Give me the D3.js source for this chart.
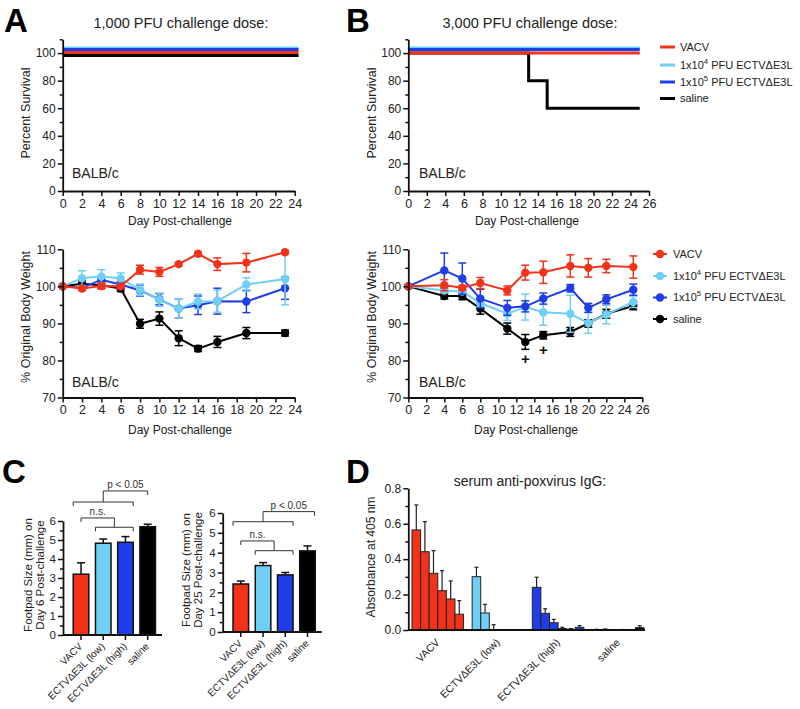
<!DOCTYPE html>
<html><head><meta charset="utf-8">
<script src="https://cdn.jsdelivr.net/npm/d3@7"></script>
<style>body{margin:0;background:#fff} svg{display:block}</style>
</head><body><svg id="c" width="800" height="709"></svg>
<script>
const FONT = '"Liberation Sans", Arial, Helvetica, sans-serif';
const RED = "#f2331a", LBLUE = "#6fcff5", BLUE = "#1f3ee8", BLACK = "#000000";

// ---------- DATA ----------
const seriesColors = [RED, LBLUE, BLUE, BLACK];
const legendBase = ["VACV", "1x10", "1x10", "saline"];
const legendSup = ["", "4", "5", ""];
const legendRest = ["", " PFU ECTV\u0394E3L", " PFU ECTV\u0394E3L", ""];

// A survival (1,000 PFU)
const survA_days = [0, 24.4];
const survA_vacv = [100, 100];
const survA_low = [100, 100];
const survA_high = [100, 100];
const survA_saline = [100, 100];
// B survival (3,000 PFU)
const survB_days = [0, 25];
const survB_vacv = [100, 100];
const survB_low = [100, 100];
const survB_high = [100, 100];
const survB_saline_days = [0, 13, 15, 25];
const survB_saline = [100, 80, 60, 60];

// A body weight
const wA_days = [0, 2, 4, 6, 8, 10, 12, 14, 16, 19, 23];
const wA_vacv = [100, 99.4, 100.1, 100, 104.5, 103.9, 106, 108.8, 106, 106.4, 109.2];
const wA_vacv_err = [0, 0.5, 0.8, 0.5, 1.2, 1.2, 0.4, 0.4, 1.7, 2.5, 0.4];
const wA_low = [100, 102.2, 102.7, 102.1, 99.1, 96.4, 94, 95.9, 96, 100.5, 102];
const wA_low_err = [0, 2, 1.8, 1.5, 1.5, 1.8, 2.5, 2, 3, 1.8, 7];
const wA_high = [100, 99.6, 101.8, 100.5, 98.9, 96.5, 94, 94.9, 96, 95.9, 99.5];
const wA_high_err = [0, 0.5, 0.8, 0.8, 1.5, 1.5, 2.5, 2.5, 3.5, 3, 3];
const wA_saline = [100, 100.7, 100.3, 99.4, 89.9, 91.3, 86, 83.2, 85, 87.4, 87.4];
const wA_saline_err = [0, 0.8, 0.8, 0.8, 1.2, 1.8, 2, 0.8, 1.5, 1.5, 0.8];

// B body weight
const wB_days = [0, 4, 6, 8, 11, 13, 15, 18, 20, 22, 25];
const wB_vacv = [100, 100.3, 99.6, 100.9, 98.9, 103.7, 103.8, 105.5, 105, 105.5, 105.2];
const wB_vacv_err = [0, 1.5, 0.6, 1.5, 1.2, 2, 3, 3, 2.5, 1.8, 3];
const wB_low = [100, 98.9, 98.6, 95.5, 92.6, 94.4, 93, 92.6, 90.1, 92.4, 95.8];
const wB_low_err = [0, 0.6, 0.6, 1, 1.8, 3.5, 3.5, 5, 2.8, 2.5, 1.5];
const wB_high = [100, 104.3, 102.1, 96.7, 94.2, 94.6, 96.7, 99.5, 94.2, 96.5, 99.1];
const wB_high_err = [0, 4.7, 4.2, 2.5, 2, 1.5, 1.5, 1, 1.2, 1.2, 1.5];
const wB_saline = [100, 97.4, 97.4, 94, 88.6, 85, 86.8, 87.7, 90, 92.6, 94.7];
const wB_saline_err = [0, 0.8, 1, 1.5, 1.5, 2, 1, 1.2, 1, 1.2, 1];
const plusDays = [13, 15];
const plusVals = [80.3, 82.8];

// C footpad
const footCats = ["VACV", "ECTV\u0394E3L (low)", "ECTV\u0394E3L (high)", "saline"];
const foot6 = [3.2, 4.83, 4.88, 5.7];
const foot6_err = [0.6, 0.22, 0.3, 0.13];
const foot25 = [2.42, 3.35, 2.88, 4.09];
const foot25_err = [0.15, 0.15, 0.12, 0.25];

// D serum IgG (6 serial dilutions per group)
const iggGroups = ["VACV", "ECTV\u0394E3L (low)", "ECTV\u0394E3L (high)", "saline"];
const igg_vacv = [0.565, 0.442, 0.32, 0.222, 0.175, 0.089];
const igg_vacv_err = [0.141, 0.17, 0.128, 0.113, 0.102, 0.077];
const igg_low = [0.301, 0.096, 0.002, 0, 0, 0];
const igg_low_err = [0.053, 0.049, 0.028, 0, 0, 0];
const igg_high = [0.241, 0.094, 0.041, 0.008, 0.004, 0.015];
const igg_high_err = [0.057, 0.026, 0.019, 0.007, 0.004, 0.01];
const igg_saline = [0.002, 0.003, 0, 0.002, 0, 0.013];
const igg_saline_err = [0.002, 0.003, 0, 0.001, 0, 0.011];

// ---------- HELPERS ----------
const svg = d3.select("#c");
function txt(x, y, s, fs, opts = {}) {
  const t = svg.append("text").attr("x", x).attr("y", y).text(s)
    .attr("font-family", FONT).attr("font-size", fs).attr("fill", opts.fill || "#222")
    .attr("text-anchor", opts.anchor || "start");
  if (opts.weight) t.attr("font-weight", opts.weight);
  if (opts.rotate) t.attr("transform", `rotate(${opts.rotate},${x},${y})`);
  return t;
}
function styleAxis(g, fs) {
  g.attr("font-family", FONT).attr("font-size", fs);
  g.select(".domain").attr("stroke", "#111").attr("stroke-width", 1.8);
  g.selectAll(".tick line").attr("stroke", "#111").attr("stroke-width", 1.5);
  g.selectAll(".tick text").attr("fill", "#222");
}
function yAxis(x0, y, ticks, minor, fmt, fs) {
  const g = svg.append("g").attr("transform", `translate(${x0},0)`);
  g.call(d3.axisLeft(y).tickValues(ticks).tickFormat(fmt).tickSize(5).tickSizeOuter(0).tickPadding(2));
  styleAxis(g, fs);
  if (minor) {
    const m = svg.append("g").attr("transform", `translate(${x0},0)`);
    m.call(d3.axisLeft(y).tickValues(minor).tickFormat("").tickSize(3).tickSizeOuter(0));
    m.select(".domain").remove();
    m.selectAll("line").attr("stroke", "#111").attr("stroke-width", 1.5);
  }
}
function xAxis(y0, x, ticks, fs) {
  const g = svg.append("g").attr("transform", `translate(0,${y0})`);
  g.call(d3.axisBottom(x).tickValues(ticks).tickSize(5).tickSizeOuter(0).tickPadding(3));
  styleAxis(g, fs);
}
function drawSurvival(x, y, days, vals, color, off) {
  svg.append("path").datum(days.map((d, i) => [d, vals[i]]))
    .attr("d", d3.line().curve(d3.curveStepAfter).x(d => x(d[0])).y(d => y(d[1]) + off))
    .attr("fill", "none").attr("stroke", color).attr("stroke-width", 3);
}
function drawWeight(x, y, days, vals, errs, color) {
  const g = svg.append("g");
  g.append("path").datum(days.map((d, i) => [d, vals[i]]))
    .attr("d", d3.line().x(d => x(d[0])).y(d => y(d[1])))
    .attr("fill", "none").attr("stroke", color).attr("stroke-width", 2);
  days.forEach((d, i) => {
    const e = errs[i];
    if (e > 0) {
      const cx = x(d);
      g.append("line").attr("x1", cx).attr("x2", cx).attr("y1", y(vals[i] - e)).attr("y2", y(vals[i] + e))
        .attr("stroke", color).attr("stroke-width", 1.5);
      [vals[i] - e, vals[i] + e].forEach(v => g.append("line").attr("x1", cx - 4).attr("x2", cx + 4)
        .attr("y1", y(v)).attr("y2", y(v)).attr("stroke", color).attr("stroke-width", 1.5));
    }
  });
  g.selectAll("circle").data(days).join("circle").attr("cx", d => x(d)).attr("cy", (d, i) => y(vals[i]))
    .attr("r", 4.2).attr("fill", color);
}
function legendLabel(x, y, i, fs) {
  const t = svg.append("text").attr("x", x).attr("y", y + fs * 0.36).attr("font-family", FONT).attr("font-size", fs)
    .attr("fill", "#222");
  t.append("tspan").text(legendBase[i]);
  if (legendSup[i]) {
    t.append("tspan").text(legendSup[i]).attr("font-size", fs * 0.7).attr("dy", -5);
    t.append("tspan").text(legendRest[i]).attr("dy", 5);
  }
}

// ---------- PANEL LETTERS & TITLES ----------
txt(4, 32, "A", 33, { weight: "bold", fill: "#000" });
txt(346, 32, "B", 33, { weight: "bold", fill: "#000" });
txt(2, 483, "C", 33, { weight: "bold", fill: "#000" });
txt(346, 483, "D", 33, { weight: "bold", fill: "#000" });
txt(181, 28, "1,000 PFU challenge dose:", 14.5, { anchor: "middle" });
txt(530, 28, "3,000 PFU challenge dose:", 14.5, { anchor: "middle" });

// ---------- A: survival ----------
const xSA = d3.scaleLinear([0, 24], [62.7, 294.7]);
const ySA = d3.scaleLinear([0, 110], [191, 39.3]);
drawSurvival(xSA, ySA, survA_days, survA_saline, BLACK, 2.5);
drawSurvival(xSA, ySA, survA_days, survA_vacv, RED, -0.5);
drawSurvival(xSA, ySA, survA_days, survA_low, LBLUE, -5);
drawSurvival(xSA, ySA, survA_days, survA_high, BLUE, -3.5);
yAxis(62.7, ySA, d3.range(0, 101, 20), d3.range(10, 111, 20), d3.format("d"), 12);
xAxis(191, xSA, d3.range(0, 25, 2), 12.5);
txt(30, 113, "Percent Survival", 12.5, { anchor: "middle", rotate: -90 });
txt(72, 178, "BALB/c", 14);
txt(180, 225, "Day Post-challenge", 12, { anchor: "middle" });

// ---------- B: survival ----------
const xSB = d3.scaleLinear([0, 26], [408.3, 649]);
const ySB = d3.scaleLinear([0, 110], [191, 39.3]);
drawSurvival(xSB, ySB, survB_saline_days, survB_saline, BLACK, 0);
drawSurvival(xSB, ySB, survB_days, survB_vacv, RED, 0);
drawSurvival(xSB, ySB, survB_days, survB_low, LBLUE, -5);
drawSurvival(xSB, ySB, survB_days, survB_high, BLUE, -3.5);
yAxis(408.3, ySB, d3.range(0, 101, 20), d3.range(10, 111, 20), d3.format("d"), 12);
xAxis(191, xSB, d3.range(0, 27, 2), 12.5);
txt(376, 113, "Percent Survival", 12.5, { anchor: "middle", rotate: -90 });
txt(419, 178, "BALB/c", 14);
txt(527, 225, "Day Post-challenge", 12, { anchor: "middle" });
// legend (top)
const legTopY = [47, 65, 82, 98.5];
seriesColors.forEach((c, i) => {
  svg.append("line").attr("x1", 660).attr("x2", 675).attr("y1", legTopY[i]).attr("y2", legTopY[i])
    .attr("stroke", c).attr("stroke-width", 3);
  legendLabel(680, legTopY[i], i, 11);
});

// ---------- A: weight ----------
const xWA = d3.scaleLinear([0, 24], [62.7, 294.7]);
const yWA = d3.scaleLinear([70, 110], [397.5, 249.3]);
drawWeight(xWA, yWA, wA_days, wA_saline, wA_saline_err, BLACK);
drawWeight(xWA, yWA, wA_days, wA_high, wA_high_err, BLUE);
drawWeight(xWA, yWA, wA_days, wA_low, wA_low_err, LBLUE);
drawWeight(xWA, yWA, wA_days, wA_vacv, wA_vacv_err, RED);
yAxis(62.7, yWA, d3.range(70, 111, 10), d3.range(75, 110, 10), d3.format("d"), 12);
xAxis(397.5, xWA, d3.range(0, 25, 2), 12.5);
txt(30, 317, "% Original Body Weight", 12.5, { anchor: "middle", rotate: -90 });
txt(72, 387, "BALB/c", 14);
txt(180, 434, "Day Post-challenge", 12, { anchor: "middle" });

// ---------- B: weight ----------
const xWB = d3.scaleLinear([0, 26], [408.3, 642.3]);
const yWB = d3.scaleLinear([70, 110], [397.5, 249.3]);
drawWeight(xWB, yWB, wB_days, wB_saline, wB_saline_err, BLACK);
drawWeight(xWB, yWB, wB_days, wB_low, wB_low_err, LBLUE);
drawWeight(xWB, yWB, wB_days, wB_high, wB_high_err, BLUE);
drawWeight(xWB, yWB, wB_days, wB_vacv, wB_vacv_err, RED);
yAxis(408.3, yWB, d3.range(70, 111, 10), d3.range(75, 110, 10), d3.format("d"), 12);
xAxis(397.5, xWB, d3.range(0, 27, 2), 12.5);
plusDays.forEach((d, i) => txt(xWB(d), yWB(plusVals[i]) + 5, "+", 15, { anchor: "middle", weight: "bold", fill: "#111" }));
txt(376, 317, "% Original Body Weight", 12.5, { anchor: "middle", rotate: -90 });
txt(419, 387, "BALB/c", 14);
txt(526, 434, "Day Post-challenge", 12, { anchor: "middle" });
// legend (bottom)
const legBotY = [254, 276, 297.5, 319];
seriesColors.forEach((c, i) => {
  svg.append("line").attr("x1", 653).attr("x2", 667).attr("y1", legBotY[i]).attr("y2", legBotY[i])
    .attr("stroke", c).attr("stroke-width", 2);
  svg.append("circle").attr("cx", 660).attr("cy", legBotY[i]).attr("r", 4.2).attr("fill", c);
  legendLabel(673, legBotY[i], i, 11);
});

// ---------- C: footpad bars ----------
function drawFoot(vals, errs, xr, axisX, axisEnd, yr, ylab1, ylab2, labX, labY, brackets) {
  const x = d3.scaleBand(footCats, xr).paddingInner(0.3).paddingOuter(0.15);
  const y = d3.scaleLinear([0, 6], yr);
  const g = svg.append("g");
  footCats.forEach((c, i) => {
    const bx = x(c), bw = x.bandwidth(), cx = bx + bw / 2;
    g.append("line").attr("x1", cx).attr("x2", cx).attr("y1", y(vals[i])).attr("y2", y(vals[i] + errs[i]))
      .attr("stroke", "#111").attr("stroke-width", 1.5);
    g.append("line").attr("x1", cx - 4).attr("x2", cx + 4).attr("y1", y(vals[i] + errs[i])).attr("y2", y(vals[i] + errs[i]))
      .attr("stroke", "#111").attr("stroke-width", 1.5);
    g.append("rect").attr("x", bx).attr("width", bw).attr("y", y(vals[i])).attr("height", y(0) - y(vals[i]))
      .attr("fill", seriesColors[i]).attr("stroke", "#111").attr("stroke-width", 1.5);
  });
  yAxis(axisX, y, d3.range(0, 7, 1), d3.range(0.5, 6, 1), d3.format("d"), 11.5);
  const xa = svg.append("g").attr("transform", `translate(0,${y(0)})`);
  xa.append("line").attr("x1", axisX).attr("x2", axisEnd).attr("stroke", "#111").attr("stroke-width", 1.8);
  footCats.forEach((c, i) => {
    const cx = x(c) + x.bandwidth() / 2;
    xa.append("line").attr("x1", cx).attr("x2", cx).attr("y1", 0).attr("y2", 5).attr("stroke", "#111").attr("stroke-width", 1.5);
    txt(cx + 2, y(0) + 12, c, 10, { anchor: "end", rotate: -45 });
  });
  txt(labX, labY, ylab1, 11.5, { anchor: "middle", rotate: -90 });
  txt(labX + 12, labY, ylab2, 11.5, { anchor: "middle", rotate: -90 });
  const ctr = i => x(footCats[i]) + x.bandwidth() / 2;
  brackets.forEach(b => {
    const x1 = x(footCats[b.lo]), x2 = x(footCats[b.hi]) + x.bandwidth();
    const yl = y(b.low), yt = y(b.top);
    const xm = (x1 + x2) / 2;
    const xe = ctr(b.to) + b.toOff * x.bandwidth();
    const p = d3.path();
    p.moveTo(x1, yl + 4); p.lineTo(x1, yl); p.lineTo(x2, yl); p.lineTo(x2, yl + 4);
    p.moveTo(xm, yl); p.lineTo(xm, yt); p.lineTo(xe, yt); p.lineTo(xe, yt + 4);
    svg.append("path").attr("d", p.toString()).attr("fill", "none").attr("stroke", "#333").attr("stroke-width", 1);
    txt((xm + xe) / 2, yt - 3, b.label, 10, { anchor: "middle", fill: "#333" });
  });
}
drawFoot(foot6, foot6_err, [69.9, 158.8], 63, 162, [635, 521],
  "Footpad Size (mm) on", "Day 6 Post-challenge", 32, 575,
  [{ lo: 1, hi: 2, low: 5.67, top: 6.16, to: 0, toOff: 0, label: "n.s." },
   { lo: 0, hi: 2, low: 7.0, top: 7.58, to: 3, toOff: 0, label: "p < 0.05" }]);
drawFoot(foot25, foot25_err, [229.7, 318.6], 222.7, 321.7, [632, 513],
  "Footpad Size (mm) on", "Day 25 Post-challenge", 190, 570,
  [{ lo: 1, hi: 2, low: 4.1, top: 4.59, to: 0, toOff: 0, label: "n.s." },
   { lo: 0, hi: 2, low: 5.56, top: 6.07, to: 3, toOff: 0.45, label: "p < 0.05" }]);

// ---------- D: serum IgG ----------
const iggVals = [igg_vacv, igg_low, igg_high, igg_saline];
const iggErrs = [igg_vacv_err, igg_low_err, igg_high_err, igg_saline_err];
const xg = d3.scaleBand(iggGroups, [412, 644]).paddingInner(1 / 7).paddingOuter(0);
const xi = d3.scaleBand(d3.range(6), [0, xg.bandwidth()]);
const yD = d3.scaleLinear([0, 0.8], [630, 488.3]);
iggGroups.forEach((grp, gi) => {
  iggVals[gi].forEach((v, j) => {
    const bx = xg(grp) + xi(j), bw = xi.bandwidth(), cx = bx + bw / 2;
    const e = iggErrs[gi][j];
    if (e > 0) {
      svg.append("line").attr("x1", cx).attr("x2", cx).attr("y1", yD(v)).attr("y2", yD(v + e))
        .attr("stroke", "#222").attr("stroke-width", 1.2);
      svg.append("line").attr("x1", cx - 2).attr("x2", cx + 2).attr("y1", yD(v + e)).attr("y2", yD(v + e))
        .attr("stroke", "#222").attr("stroke-width", 1.2);
    }
    if (v > 0) {
      svg.append("rect").attr("x", bx).attr("width", bw).attr("y", yD(v)).attr("height", yD(0) - yD(v))
        .attr("fill", seriesColors[gi]).attr("stroke", "#222").attr("stroke-width", 1);
    }
  });
  txt(xg(grp) + xg.bandwidth() / 2 + 2.5, 643, grp, 10.5, { anchor: "end", rotate: -45 });
});
yAxis(408.3, yD, d3.range(0, 0.81, 0.2), d3.range(0.1, 0.8, 0.2), d3.format(".1f"), 12);
svg.append("line").attr("x1", 408.3).attr("x2", 645).attr("y1", yD(0)).attr("y2", yD(0))
  .attr("stroke", "#111").attr("stroke-width", 1.8);
txt(375, 557, "Absorbance at 405 nm", 12, { anchor: "middle", rotate: -90 });
txt(530, 486, "serum anti-poxvirus IgG:", 14, { anchor: "middle" });
</script></body></html>
